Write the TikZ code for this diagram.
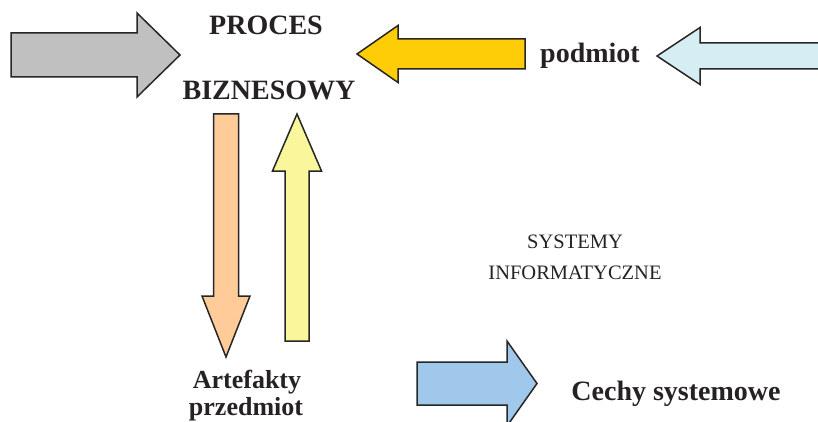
\documentclass[tikz,border=0pt]{standalone}
\usepackage{fontspec}
\setmainfont{Liberation Serif}
\definecolor{textgrey}{HTML}{262223}
\definecolor{greyarrow}{HTML}{C0C0C0}
\definecolor{goldarrow}{HTML}{FFCC08}
\definecolor{skyarrow}{HTML}{D6EDF3}
\definecolor{peacharrow}{HTML}{FFCC99}
\definecolor{lemonarrow}{HTML}{FAF69C}
\definecolor{bluearrow}{HTML}{A0C8EA}
\newcommand{\headfont}{\fontsize{28}{32}\selectfont\bfseries}
\newcommand{\sysfont}{\fontsize{20.5}{24}\selectfont}

\begin{document}
\begin{tikzpicture}[x = 1pt, y = -1pt, every node/.style = {text = textgrey, inner sep = 0pt, anchor = base}, arrowbox/.style = {draw = black!85, line width = 1.5pt, line join = miter}]
	\useasboundingbox (0, 0) rectangle (818, 422);
	\clip (0, 0) rectangle (818, 422);

	% block arrows: colour / tail x / tail y / angle / length / head length / shaft half / head half
	\foreach \col/\x/\y/\ang/\len/\hd/\sh/\hw in {greyarrow/11/55/0/169/43/22/42, goldarrow/525/54/180/168/41/15/28.5, skyarrow/830/56/180/173/43/13/28.5, peacharrow/226/114/-90/243/61/12.5/24, lemonarrow/297/341/90/227/57/12/24.5, bluearrow/417/383.5/0/120/30/21.5/42.5}
		\draw[arrowbox, fill = \col, shift = {(\x, \y)}, rotate = \ang] (0, -\sh) -- (\len - \hd, -\sh) -- (\len - \hd, -\hw) -- (\len, 0) -- (\len - \hd, \hw) -- (\len - \hd, \sh) -- (0, \sh) -- cycle;

	\node (proces) at (266, 35) [font = \headfont] {PROCES};
	\node (biznes) at (269, 100) [font = \headfont] {BIZNESOWY};
	\node (podmiot) at (590, 63) [font = \headfont] {podmiot};
	\node (systemy) at (575, 248) [font = \sysfont] {SYSTEMY};
	\node (informatyczne) at (575, 279) [font = \sysfont] {INFORMATYCZNE};
	\node (artefakty) at (247, 388) [font = \fontsize{26}{30}\selectfont\bfseries] {Artefakty};
	\node (przedmiot) at (246, 415) [font = \fontsize{26}{30}\selectfont\bfseries] {przedmiot};
	\node (cechy) at (676, 400) [font = \headfont] {Cechy systemowe};
\end{tikzpicture}
\end{document}
